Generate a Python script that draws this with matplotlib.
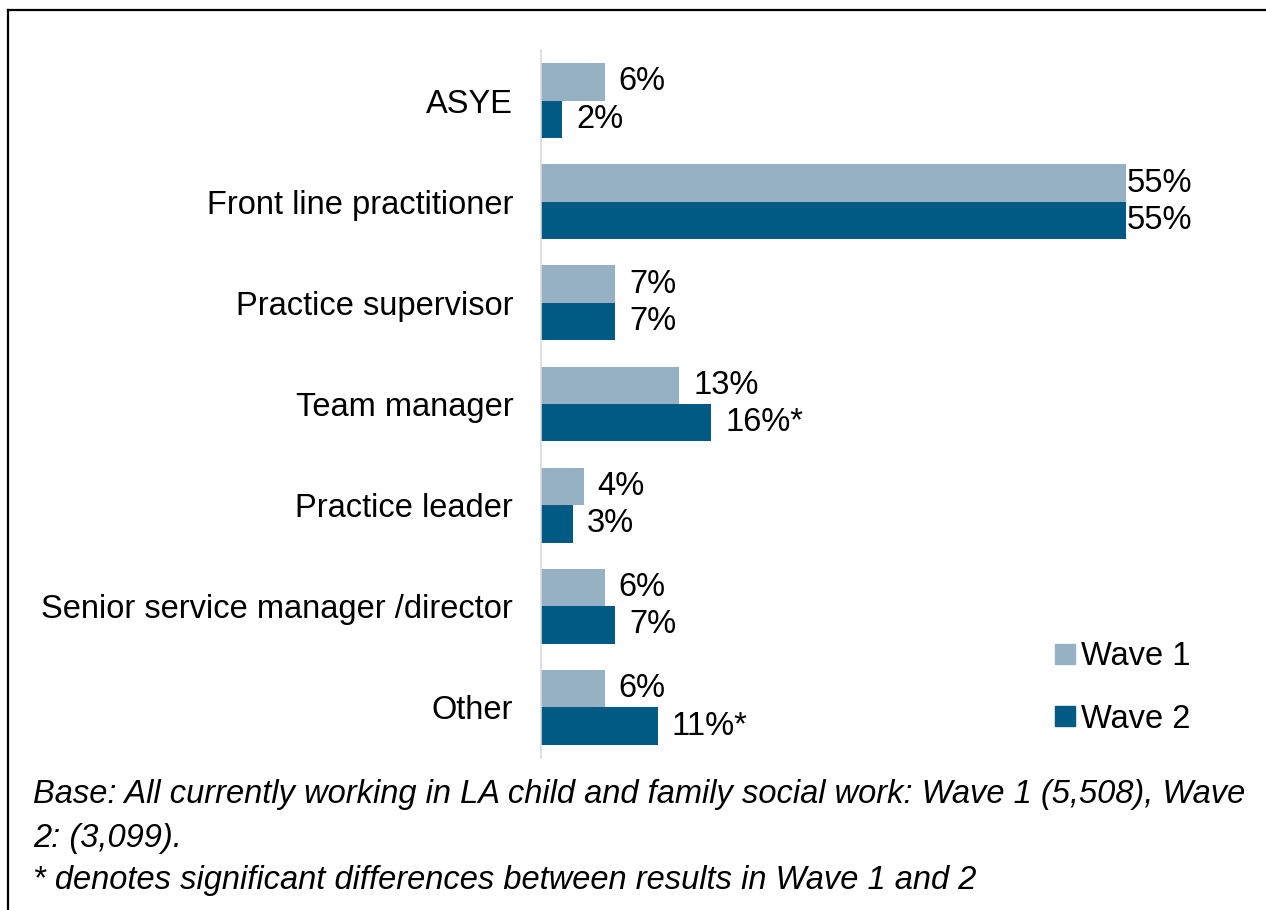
import numpy as np
import matplotlib.pyplot as plt
from matplotlib.lines import Line2D
from matplotlib.patches import Patch

# data
categories = ['ASYE', 'Front line practitioner', 'Practice supervisor', 'Team manager',
              'Practice leader', 'Senior service manager /director', 'Other']
wave1 = [6, 55, 7, 13, 4, 6, 6]
wave2 = [2, 55, 7, 16, 3, 7, 11]
wave1_labels = ['6%', '55%', '7%', '13%', '4%', '6%', '6%']
wave2_labels = ['2%', '55%', '7%', '16%*', '3%', '7%', '11%*']
series_names = ['Wave 1', 'Wave 2']
footnotes = ['Base: All currently working in LA child and family social work: Wave 1 (5,508), Wave',
             '2: (3,099).',
             '* denotes significant differences between results in Wave 1 and 2']

c1 = '#97B1C4'
c2 = '#005A84'

plt.rcParams['font.family'] = ['Liberation Sans', 'DejaVu Sans']
FS = 23.5

fig = plt.figure(figsize=(12.66, 9.10), dpi=100)
ax = fig.add_axes([541/1266, 1 - 758/910, (1179 - 541)/1266, (758 - 50)/910])

y = np.arange(len(categories))
h = 0.37
ax.barh(y - h/2, wave1, height=h, color=c1)
ax.barh(y + h/2, wave2, height=h, color=c2)

ax.set_xlim(0, 60)
ax.set_ylim(len(categories) - 0.5, -0.5)
ax.set_yticks(y)
ax.set_yticklabels(categories, fontsize=FS)
ax.tick_params(axis='y', length=0, pad=20)
ax.set_xticks([])
for s in ['top', 'right', 'bottom']:
    ax.spines[s].set_visible(False)
ax.spines['left'].set_color('#D9D9D9')
ax.spines['left'].set_linewidth(1.2)

# value labels
for vals, labs, off in [(wave1, wave1_labels, -h/2), (wave2, wave2_labels, h/2)]:
    for i, (v, lab) in enumerate(zip(vals, labs)):
        pad = 1 if v > 50 else 14
        ax.annotate(lab, (v, i + off), xytext=(pad, 0), textcoords='offset pixels',
                    va='center', ha='left', fontsize=FS)

handles = [Patch(color=c1), Patch(color=c2)]
fig.legend(handles, series_names, loc='center left', bbox_to_anchor=(1039/1266, 1 - 688/910),
           frameon=False, fontsize=FS, handlelength=0.6, handleheight=0.6,
           handletextpad=0.2, labelspacing=0.95, borderpad=0)

# footnotes
for t, yy in zip(footnotes, [795, 838, 880]):
    fig.text(33/1266, 1 - yy/910, t, fontsize=FS, style='italic', va='center', ha='left')

# border (top and left edges visible)
fig.add_artist(Line2D([8/1266, 1], [1 - 10/910, 1 - 10/910], color='black', lw=1.6,
                      transform=fig.transFigure))
fig.add_artist(Line2D([8/1266, 8/1266], [0, 1 - 10/910], color='black', lw=1.6,
                      transform=fig.transFigure))

fig.savefig('out.png', dpi=100)
